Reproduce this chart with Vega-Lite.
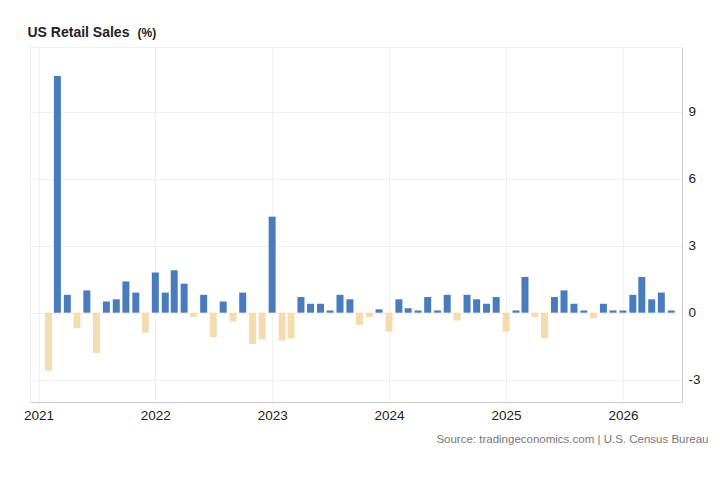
{
  "$schema": "https://vega.github.io/schema/vega-lite/v6.json",
  "width": 652,
  "height": 355,
  "autosize": {"type": "none"},
  "padding": {"left": 30, "top": 47, "right": 38, "bottom": 90},
  "background": "white",
  "config": {
    "font": "Liberation Sans",
    "view": {"stroke": "#e3e3e3", "strokeDash": [1, 1]}
  },
  "title": {
    "text": "US Retail Sales",
    "anchor": "start",
    "fontSize": 14,
    "fontWeight": "bold",
    "color": "#222222",
    "baseline": "alphabetic",
    "offset": 10,
    "dx": 4,
    "dy": 35
  },
  "data": {
    "values": [
      {"month": "2021-02-01", "value": -2.6},
      {"month": "2021-03-01", "value": 10.6},
      {"month": "2021-04-01", "value": 0.8},
      {"month": "2021-05-01", "value": -0.7},
      {"month": "2021-06-01", "value": 1.0},
      {"month": "2021-07-01", "value": -1.8},
      {"month": "2021-08-01", "value": 0.5},
      {"month": "2021-09-01", "value": 0.6},
      {"month": "2021-10-01", "value": 1.4},
      {"month": "2021-11-01", "value": 0.9},
      {"month": "2021-12-01", "value": -0.9},
      {"month": "2022-01-01", "value": 1.8},
      {"month": "2022-02-01", "value": 0.9},
      {"month": "2022-03-01", "value": 1.9},
      {"month": "2022-04-01", "value": 1.3},
      {"month": "2022-05-01", "value": -0.2},
      {"month": "2022-06-01", "value": 0.8},
      {"month": "2022-07-01", "value": -1.1},
      {"month": "2022-08-01", "value": 0.5},
      {"month": "2022-09-01", "value": -0.4},
      {"month": "2022-10-01", "value": 0.9},
      {"month": "2022-11-01", "value": -1.4},
      {"month": "2022-12-01", "value": -1.2},
      {"month": "2023-01-01", "value": 4.3},
      {"month": "2023-02-01", "value": -1.25},
      {"month": "2023-03-01", "value": -1.15},
      {"month": "2023-04-01", "value": 0.7},
      {"month": "2023-05-01", "value": 0.4},
      {"month": "2023-06-01", "value": 0.4},
      {"month": "2023-07-01", "value": 0.1},
      {"month": "2023-08-01", "value": 0.8},
      {"month": "2023-09-01", "value": 0.6},
      {"month": "2023-10-01", "value": -0.55},
      {"month": "2023-11-01", "value": -0.2},
      {"month": "2023-12-01", "value": 0.15},
      {"month": "2024-01-01", "value": -0.85},
      {"month": "2024-02-01", "value": 0.6},
      {"month": "2024-03-01", "value": 0.2},
      {"month": "2024-04-01", "value": 0.1},
      {"month": "2024-05-01", "value": 0.7},
      {"month": "2024-06-01", "value": 0.1},
      {"month": "2024-07-01", "value": 0.8},
      {"month": "2024-08-01", "value": -0.35},
      {"month": "2024-09-01", "value": 0.8},
      {"month": "2024-10-01", "value": 0.6},
      {"month": "2024-11-01", "value": 0.4},
      {"month": "2024-12-01", "value": 0.7},
      {"month": "2025-01-01", "value": -0.85},
      {"month": "2025-02-01", "value": 0.1},
      {"month": "2025-03-01", "value": 1.6},
      {"month": "2025-04-01", "value": -0.2},
      {"month": "2025-05-01", "value": -1.15},
      {"month": "2025-06-01", "value": 0.7},
      {"month": "2025-07-01", "value": 1.0},
      {"month": "2025-08-01", "value": 0.4},
      {"month": "2025-09-01", "value": 0.1},
      {"month": "2025-10-01", "value": -0.25},
      {"month": "2025-11-01", "value": 0.4},
      {"month": "2025-12-01", "value": 0.1},
      {"month": "2026-01-01", "value": 0.1},
      {"month": "2026-02-01", "value": 0.8},
      {"month": "2026-03-01", "value": 1.6},
      {"month": "2026-04-01", "value": 0.6},
      {"month": "2026-05-01", "value": 0.9},
      {"month": "2026-06-01", "value": 0.1}
    ]
  },
  "mark": {"type": "bar", "width": 7},
  "encoding": {
    "x": {
      "field": "month",
      "type": "temporal",
      "scale": {
        "type": "utc",
        "domain": [
          {"year": 2020, "month": 12, "date": 21, "utc": true},
          {"year": 2026, "month": 6, "date": 19, "utc": true}
        ]
      },
      "axis": {
        "values": [
          {"year": 2021, "month": 1, "date": 1, "utc": true},
          {"year": 2022, "month": 1, "date": 1, "utc": true},
          {"year": 2023, "month": 1, "date": 1, "utc": true},
          {"year": 2024, "month": 1, "date": 1, "utc": true},
          {"year": 2025, "month": 1, "date": 1, "utc": true},
          {"year": 2026, "month": 1, "date": 1, "utc": true}
        ],
        "format": "%Y",
        "formatType": "utc",
        "labelFlush": false,
        "labelFontSize": 13.5,
        "labelColor": "#222222",
        "labelPadding": 6,
        "ticks": false,
        "domainColor": "#cccccc",
        "grid": true,
        "gridColor": "#e3e3e3",
        "gridDash": [1, 1],
        "title": "Source: tradingeconomics.com | U.S. Census Bureau",
        "titleFontSize": 11.5,
        "titleFontWeight": "normal",
        "titleColor": "#777777",
        "titleAlign": "right",
        "titleAnchor": null,
        "titleBaseline": "alphabetic",
        "titleX": 678,
        "titleY": 40
      }
    },
    "y": {
      "field": "value",
      "type": "quantitative",
      "scale": {"domain": [-4, 11.9], "nice": false, "zero": false},
      "axis": {
        "orient": "right",
        "values": [-3, 0, 3, 6, 9],
        "labelExpr": "'' + datum.value",
        "labelFontSize": 13.5,
        "labelColor": "#222222",
        "labelPadding": 6,
        "ticks": false,
        "domainColor": "#cccccc",
        "gridColor": "#e3e3e3",
        "gridDash": [1, 1],
        "title": "(%)",
        "titleAngle": 0,
        "titleFontSize": 12,
        "titleFontWeight": "bold",
        "titleColor": "#222222",
        "titleAlign": "left",
        "titleBaseline": "alphabetic",
        "titleX": -545,
        "titleY": -11
      }
    },
    "color": {
      "condition": {"test": "datum.value < 0", "value": "#f3dcae"},
      "value": "#4a7cbd"
    }
  }
}
